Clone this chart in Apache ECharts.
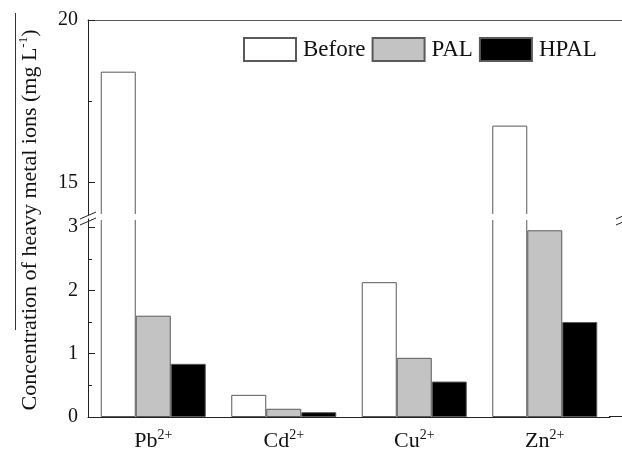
<!DOCTYPE html>
<html>
<head>
  <meta charset="utf-8">
  <title>Heavy metal ions</title>
  <script src="https://cdn.jsdelivr.net/npm/echarts@6.0.0/dist/echarts.min.js"></script>
  <style>
    html, body { margin: 0; padding: 0; background: #fff; }
    #chart-box { width: 622px; height: 455px; }
  </style>
</head>
<body>
  <div id="chart-box"></div>
  <script type="text/javascript">
    // data
    var ions = ['Pb', 'Cd', 'Cu', 'Zn'];
    var charges = ['2+', '2+', '2+', '2+'];
    var before = [18.41, 0.35, 2.13, 16.75];
    var pal = [1.60, 0.13, 0.935, 2.95];
    var hpal = [0.84, 0.076, 0.56, 1.50];
    var upperTicks = [15, 20];
    var upperMinor = [17.5];
    var lowerTicks = [0, 1, 2, 3];
    var lowerMinor = [0.5, 1.5, 2.5];

    var font = 'Liberation Serif';
    var upperMin = 14, upperMax = 20;
    var lowerMin = 0, lowerMax = 3.128;

    var chart = echarts.init(document.querySelector('#chart-box'));

    function upperPart(arr) {
      return arr.map(function (v) { return v > upperMin ? v : '-'; });
    }

    var styles = [
      { name: 'Before', color: '#ffffff', data: before },
      { name: 'PAL', color: '#c3c3c3', data: pal },
      { name: 'HPAL', color: '#000000', data: hpal }
    ];

    var series = [];
    styles.forEach(function (s) {
      // lower part
      series.push({
        name: s.name, type: 'bar', xAxisIndex: 1, yAxisIndex: 1,
        barWidth: 35, barGap: '0%', clip: true,
        itemStyle: { color: s.color, borderColor: '#5a5a5a', borderWidth: 1 },
        data: s.data
      });
      // upper part
      series.push({
        name: s.name, type: 'bar', xAxisIndex: 0, yAxisIndex: 0,
        barWidth: 35, barGap: '0%', clip: true,
        itemStyle: { color: s.color, borderColor: '#5a5a5a', borderWidth: 1 },
        data: upperPart(s.data)
      });
    });

    var tickLabel = { fontFamily: font, fontSize: 20, color: '#111' };

    var options = {
      animation: false,
      legend: {
        data: ['Before', 'PAL', 'HPAL'],
        left: 238, top: 32,
        itemWidth: 52, itemHeight: 23, itemGap: 6,
        icon: 'rect',
        textStyle: { fontFamily: font, fontSize: 23, color: '#111', padding: [0, 0, 0, 2] }
      },
      grid: [
        { left: 88, right: 12, top: 20, height: 195 },
        { left: 88, right: 12, top: 219, height: 198 }
      ],
      xAxis: [
        {
          gridIndex: 0, type: 'category', data: ions, position: 'top',
          axisLine: { lineStyle: { color: '#5a5a5a', width: 1 } },
          axisTick: { show: false }, axisLabel: { show: false }
        },
        {
          gridIndex: 1, type: 'category', data: ions,
          axisLine: { lineStyle: { color: '#222', width: 1 } },
          axisTick: { show: false },
          axisLabel: {
            margin: 11,
            formatter: function (v, i) { return '{b|' + v + '}{s|' + charges[i] + '}'; },
            rich: {
              b: { fontFamily: font, fontSize: 22, color: '#111', lineHeight: 24, verticalAlign: 'bottom' },
              s: { fontFamily: font, fontSize: 14, color: '#111', lineHeight: 24, verticalAlign: 'top' }
            }
          }
        }
      ],
      yAxis: [
        {
          gridIndex: 0, type: 'value', min: upperMin, max: upperMax, position: 'left',
          axisLine: { show: true, lineStyle: { color: '#222', width: 1 } },
          axisTick: { show: true, inside: true, length: 7, customValues: upperTicks, lineStyle: { color: '#222' } },
          axisLabel: Object.assign({ customValues: upperTicks, margin: 10 }, tickLabel),
          splitLine: { show: false }
        },
        {
          gridIndex: 1, type: 'value', min: lowerMin, max: lowerMax, position: 'left',
          axisLine: { show: true, lineStyle: { color: '#222', width: 1 } },
          axisTick: { show: true, inside: true, length: 7, customValues: lowerTicks, lineStyle: { color: '#222' } },
          axisLabel: Object.assign({ customValues: lowerTicks, margin: 10 }, tickLabel),
          splitLine: { show: false }
        },
        {
          gridIndex: 0, type: 'value', min: upperMin, max: upperMax, position: 'left', offset: 0,
          axisLine: { show: false },
          axisTick: { show: true, inside: true, length: 4, customValues: upperMinor, lineStyle: { color: '#222' } },
          axisLabel: { show: false }, splitLine: { show: false }
        },
        {
          gridIndex: 1, type: 'value', min: lowerMin, max: lowerMax, position: 'left', offset: 0,
          axisLine: { show: false },
          axisTick: { show: true, inside: true, length: 4, customValues: lowerMinor, lineStyle: { color: '#222' } },
          axisLabel: { show: false }, splitLine: { show: false }
        }
      ],
      series: series,
      graphic: [
        // gap of the broken axis
        { type: 'rect', z: 100, shape: { x: 89, y: 214, width: 540, height: 6 }, style: { fill: '#fff' } },
        // break marks
        { type: 'line', z: 101, shape: { x1: 80, y1: 219, x2: 96, y2: 212 }, style: { stroke: '#222', lineWidth: 1 } },
        { type: 'line', z: 101, shape: { x1: 80, y1: 225, x2: 96, y2: 218 }, style: { stroke: '#222', lineWidth: 1 } },
        { type: 'line', z: 101, shape: { x1: 616, y1: 219, x2: 632, y2: 212 }, style: { stroke: '#222', lineWidth: 1 } },
        { type: 'line', z: 101, shape: { x1: 616, y1: 225, x2: 632, y2: 218 }, style: { stroke: '#222', lineWidth: 1 } },
        // frame lines running past the right edge
        { type: 'line', z: 101, shape: { x1: 609, y1: 20.5, x2: 622, y2: 20.5 }, style: { stroke: '#5a5a5a', lineWidth: 1 } },
        { type: 'line', z: 101, shape: { x1: 609, y1: 416.5, x2: 622, y2: 416.5 }, style: { stroke: '#222', lineWidth: 1 } },
        // line beside the axis title
        { type: 'line', z: 101, shape: { x1: 15.5, y1: 13, x2: 15.5, y2: 330 }, style: { stroke: '#333', lineWidth: 1 } },
        // y axis title
        {
          type: 'text', z: 101, x: 29, y: 220, rotation: Math.PI / 2,
          style: {
            text: '{t|Concentration of heavy metal ions (mg L}{s|-1}{t|)}',
            align: 'center', verticalAlign: 'middle',
            rich: {
              t: { fontFamily: font, fontSize: 22, fill: '#111', lineHeight: 24, verticalAlign: 'bottom' },
              s: { fontFamily: font, fontSize: 13, fill: '#111', lineHeight: 24, verticalAlign: 'top' }
            }
          }
        }
      ]
    };

    chart.setOption(options);
  </script>
</body>
</html>
